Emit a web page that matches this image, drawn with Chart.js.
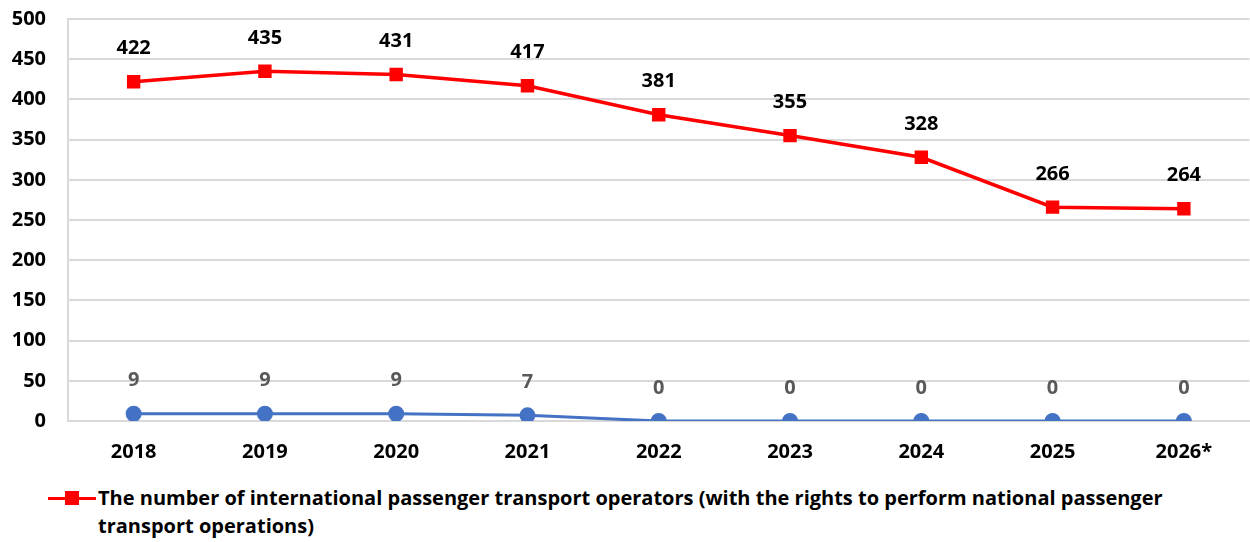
<!DOCTYPE html>
<html>
<head>
<meta charset="utf-8">
<script src="https://cdn.jsdelivr.net/npm/chart.js@4/dist/chart.umd.min.js"></script>
<style>
  body { margin: 0; background: #fff; }
  #wrap { position: relative; width: 1250px; height: 542px; overflow: hidden; }
  #chart { position: absolute; left: 0; top: -15px; }
  #legend { position: absolute; left: 48px; top: 484px; font: bold 20px "Open Sans", sans-serif; color: #000; line-height: 28px; white-space: nowrap; }
  #legend .mk { position: absolute; left: 0; top: 13px; width: 48px; height: 3px; background: #ff0000; }
  #legend .mk i { position: absolute; left: 17px; top: -6px; width: 14px; height: 14px; background: #ff0000; }
  #legend .tx { margin-left: 50px; }
</style>
</head>
<body>
<div id="wrap">
  <canvas id="chart" width="1260" height="486"></canvas>
  <div id="legend">
    <span class="mk"><i></i></span>
    <div class="tx">The number of international passenger transport operators (with the rights to perform national passenger<br>transport operations)</div>
  </div>
</div>
<script>
const years = ['2018', '2019', '2020', '2021', '2022', '2023', '2024', '2025', '2026*'];
const operators = [422, 435, 431, 417, 381, 355, 328, 266, 264];
const otherOperators = [9, 9, 9, 7, 0, 0, 0, 0, 0];
const yTicks = [0, 50, 100, 150, 200, 250, 300, 350, 400, 450, 500];

const FONT = '"Open Sans", sans-serif';

// labels above each point
const pointLabels = {
    id: 'pointLabels',
    afterDatasetsDraw(chart) {
        const ctx = chart.ctx;
        ctx.save();
        ctx.font = 'bold 20px ' + FONT;
        ctx.textAlign = 'center';
        ctx.textBaseline = 'middle';
        chart.data.datasets.forEach((ds, i) => {
            const meta = chart.getDatasetMeta(i);
            ctx.fillStyle = ds.labelColor;
            meta.data.forEach((pt, j) => {
                ctx.fillText(String(ds.data[j]), pt.x, pt.y - 33);
            });
        });
        ctx.restore();
    }
};

const ctx = document.getElementById('chart').getContext('2d');
new Chart(ctx, {
    type: 'line',
    data: {
        labels: years,
        datasets: [{
            label: 'The number of international passenger transport operators (with the rights to perform national passenger transport operations)',
            data: operators,
            borderColor: '#ff0000',
            backgroundColor: '#ff0000',
            borderWidth: 3.5,
            pointStyle: 'rect',
            pointRadius: 7,
            pointHoverRadius: 7,
            labelColor: '#000000',
            tension: 0
        }, {
            label: '',
            data: otherOperators,
            borderColor: '#4472c4',
            backgroundColor: '#4472c4',
            borderWidth: 3,
            pointStyle: 'circle',
            pointRadius: 6.5,
            pointHoverRadius: 6.5,
            labelColor: '#595959',
            tension: 0
        }]
    },
    options: {
        responsive: false,
        animation: false,
        layout: { padding: { top: 8, right: 0, left: 0, bottom: 0 } },
        plugins: {
            legend: { display: false },
            tooltip: { enabled: false }
        },
        scales: {
            x: {
                offset: true,
                afterFit: axis => { axis.height = 50; },
                grid: { display: false, drawTicks: false },
                border: { color: '#d9d9d9', width: 2 },
                ticks: { color: '#000', font: { family: FONT, size: 20, weight: 'bold' }, padding: 19, maxRotation: 0 }
            },
            y: {
                min: 0,
                max: 500,
                afterBuildTicks: axis => { axis.ticks = yTicks.map(v => ({ value: v })); },
                afterFit: axis => { axis.width = 68; },
                grid: { color: '#d9d9d9', lineWidth: 2, drawTicks: false },
                border: { color: '#d9d9d9', width: 2 },
                ticks: { color: '#000', font: { family: FONT, size: 20, weight: 'bold' }, padding: 22 }
            }
        }
    },
    plugins: [pointLabels]
});
</script>
</body>
</html>
